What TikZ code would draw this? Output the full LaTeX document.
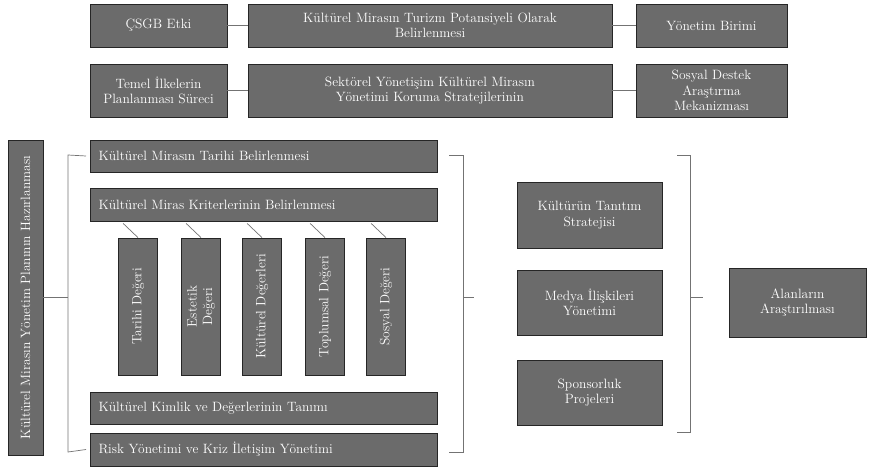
\documentclass[tikz,border=0pt]{standalone}
\usepackage{fontspec}
\usetikzlibrary{calc}
\tikzset{
  box/.style={draw=black!85, line width=0.8pt, fill=black!58, text=white, inner sep=2pt,
    align=center, font=\fontsize{13.5}{15.5}\selectfont},
  wide/.style={box, text width=330pt, align=left},
  link/.style={draw=black!55, line width=0.7pt},
}
\newcommand{\bx}[6]{\node[box, minimum width=#4, minimum height=#5] (#1) at (#2,#3) {#6};}
\newcommand{\wbx}[4]{\node[wide, minimum width=347pt, minimum height=#3] (#1) at (263.5,#2) {#4};}
\newcommand{\vbx}[6]{\node[box, rotate=90, minimum width=#5, minimum height=#4] (#1) at (#2,#3) {#6};}
\begin{document}
\begin{tikzpicture}[x=1pt,y=-1pt]
\useasboundingbox (0,0) rectangle (869,471);
% top rows
\bx{esop}{158.5}{25.5}{137pt}{43pt}{ÇSGB Etki}
\bx{kmt}{430}{25.5}{364pt}{43pt}{Kültürel Mirasın Turizm Potansiyeli Olarak\\Belirlenmesi}
\bx{yon}{711.5}{25.5}{151pt}{43pt}{Yönetim Birimi}
\bx{temel}{158.5}{90.5}{137pt}{53pt}{Temel İlkelerin\\Planlanması Süreci}
\bx{sek}{430}{90.5}{364pt}{53pt}{Sektörel Yönetişim Kültürel Mirasın\\Yönetimi Koruma Stratejilerinin}
\bx{sos}{711.5}{90.5}{151pt}{53pt}{Sosyal Destek\\Araştırma\\Mekanizması}
\draw[link] (esop) -- (kmt);
\draw[link] (kmt) -- (yon);
\draw[link] (temel) -- (sek);
\draw[link] (sek) -- (sos);
% left group
\vbx{plan}{25.5}{297.5}{35pt}{315pt}{Kültürel Mirasın Yönetim Planının Hazırlanması}
\wbx{tarih}{156}{32pt}{Kültürel Mirasın Tarihi Belirlenmesi}
\wbx{kriter}{204.5}{33pt}{Kültürel Miras Kriterlerinin Belirlenmesi}
\vbx{va}{138}{306.5}{39pt}{137pt}{Tarihi Değeri}
\vbx{vb}{201}{306.5}{39pt}{137pt}{Estetik\\Değeri}
\vbx{vc}{262}{306.5}{39pt}{137pt}{Kültürel Değerleri}
\vbx{vd}{325}{306.5}{39pt}{137pt}{Toplumsal Değeri}
\vbx{ve}{386}{306.5}{39pt}{137pt}{Sosyal Değeri}
\wbx{kimlik}{408}{32pt}{Kültürel Kimlik ve Değerlerinin Tanımı}
\wbx{risk}{449.5}{33pt}{Risk Yönetimi ve Kriz İletişim Yönetimi}
\foreach \v in {va,vb,vc,vd,ve}{
  \draw[link] ($(\v.north east |- kriter.south)+(5,2)$) -- (\v.east);
}
% left bracket
\coordinate (lt) at (68,155);
\coordinate (lb) at (68,452);
\coordinate (lm) at (68,297.5);
\draw[link] (tarih.west -| 86,0) -- (lt) -- (lb) -- (risk.west -| 86,0);
\draw[link] (plan) -- (lm);
% right bracket of left group
\coordinate (rt) at (463,155);
\coordinate (rb) at (463,452);
\coordinate (rm) at (463,297.5);
\coordinate (rs) at (474,297.5);
\draw[link] (449,155) -- (rt) -- (rb) -- (449,452);
\draw[link] (rm) -- (rs);
% right group
\bx{ra}{589.5}{215}{145pt}{66pt}{Kültürün Tanıtım\\Stratejisi}
\bx{rb2}{589.5}{302.5}{145pt}{65pt}{Medya İlişkileri\\Yönetimi}
\bx{rc}{589.5}{392.5}{145pt}{65pt}{Sponsorluk\\Projeleri}
\bx{alg}{797.5}{302.5}{137pt}{69pt}{Alanların\\Araştırılması}
\coordinate (bt) at (690,155);
\coordinate (bb) at (690,432);
\coordinate (bm) at (690,297.5);
\coordinate (bs) at (703,297.5);
\draw[link] (677,155) -- (bt) -- (bb) -- (677,432);
\draw[link] (bm) -- (bs);
\end{tikzpicture}
\end{document}
